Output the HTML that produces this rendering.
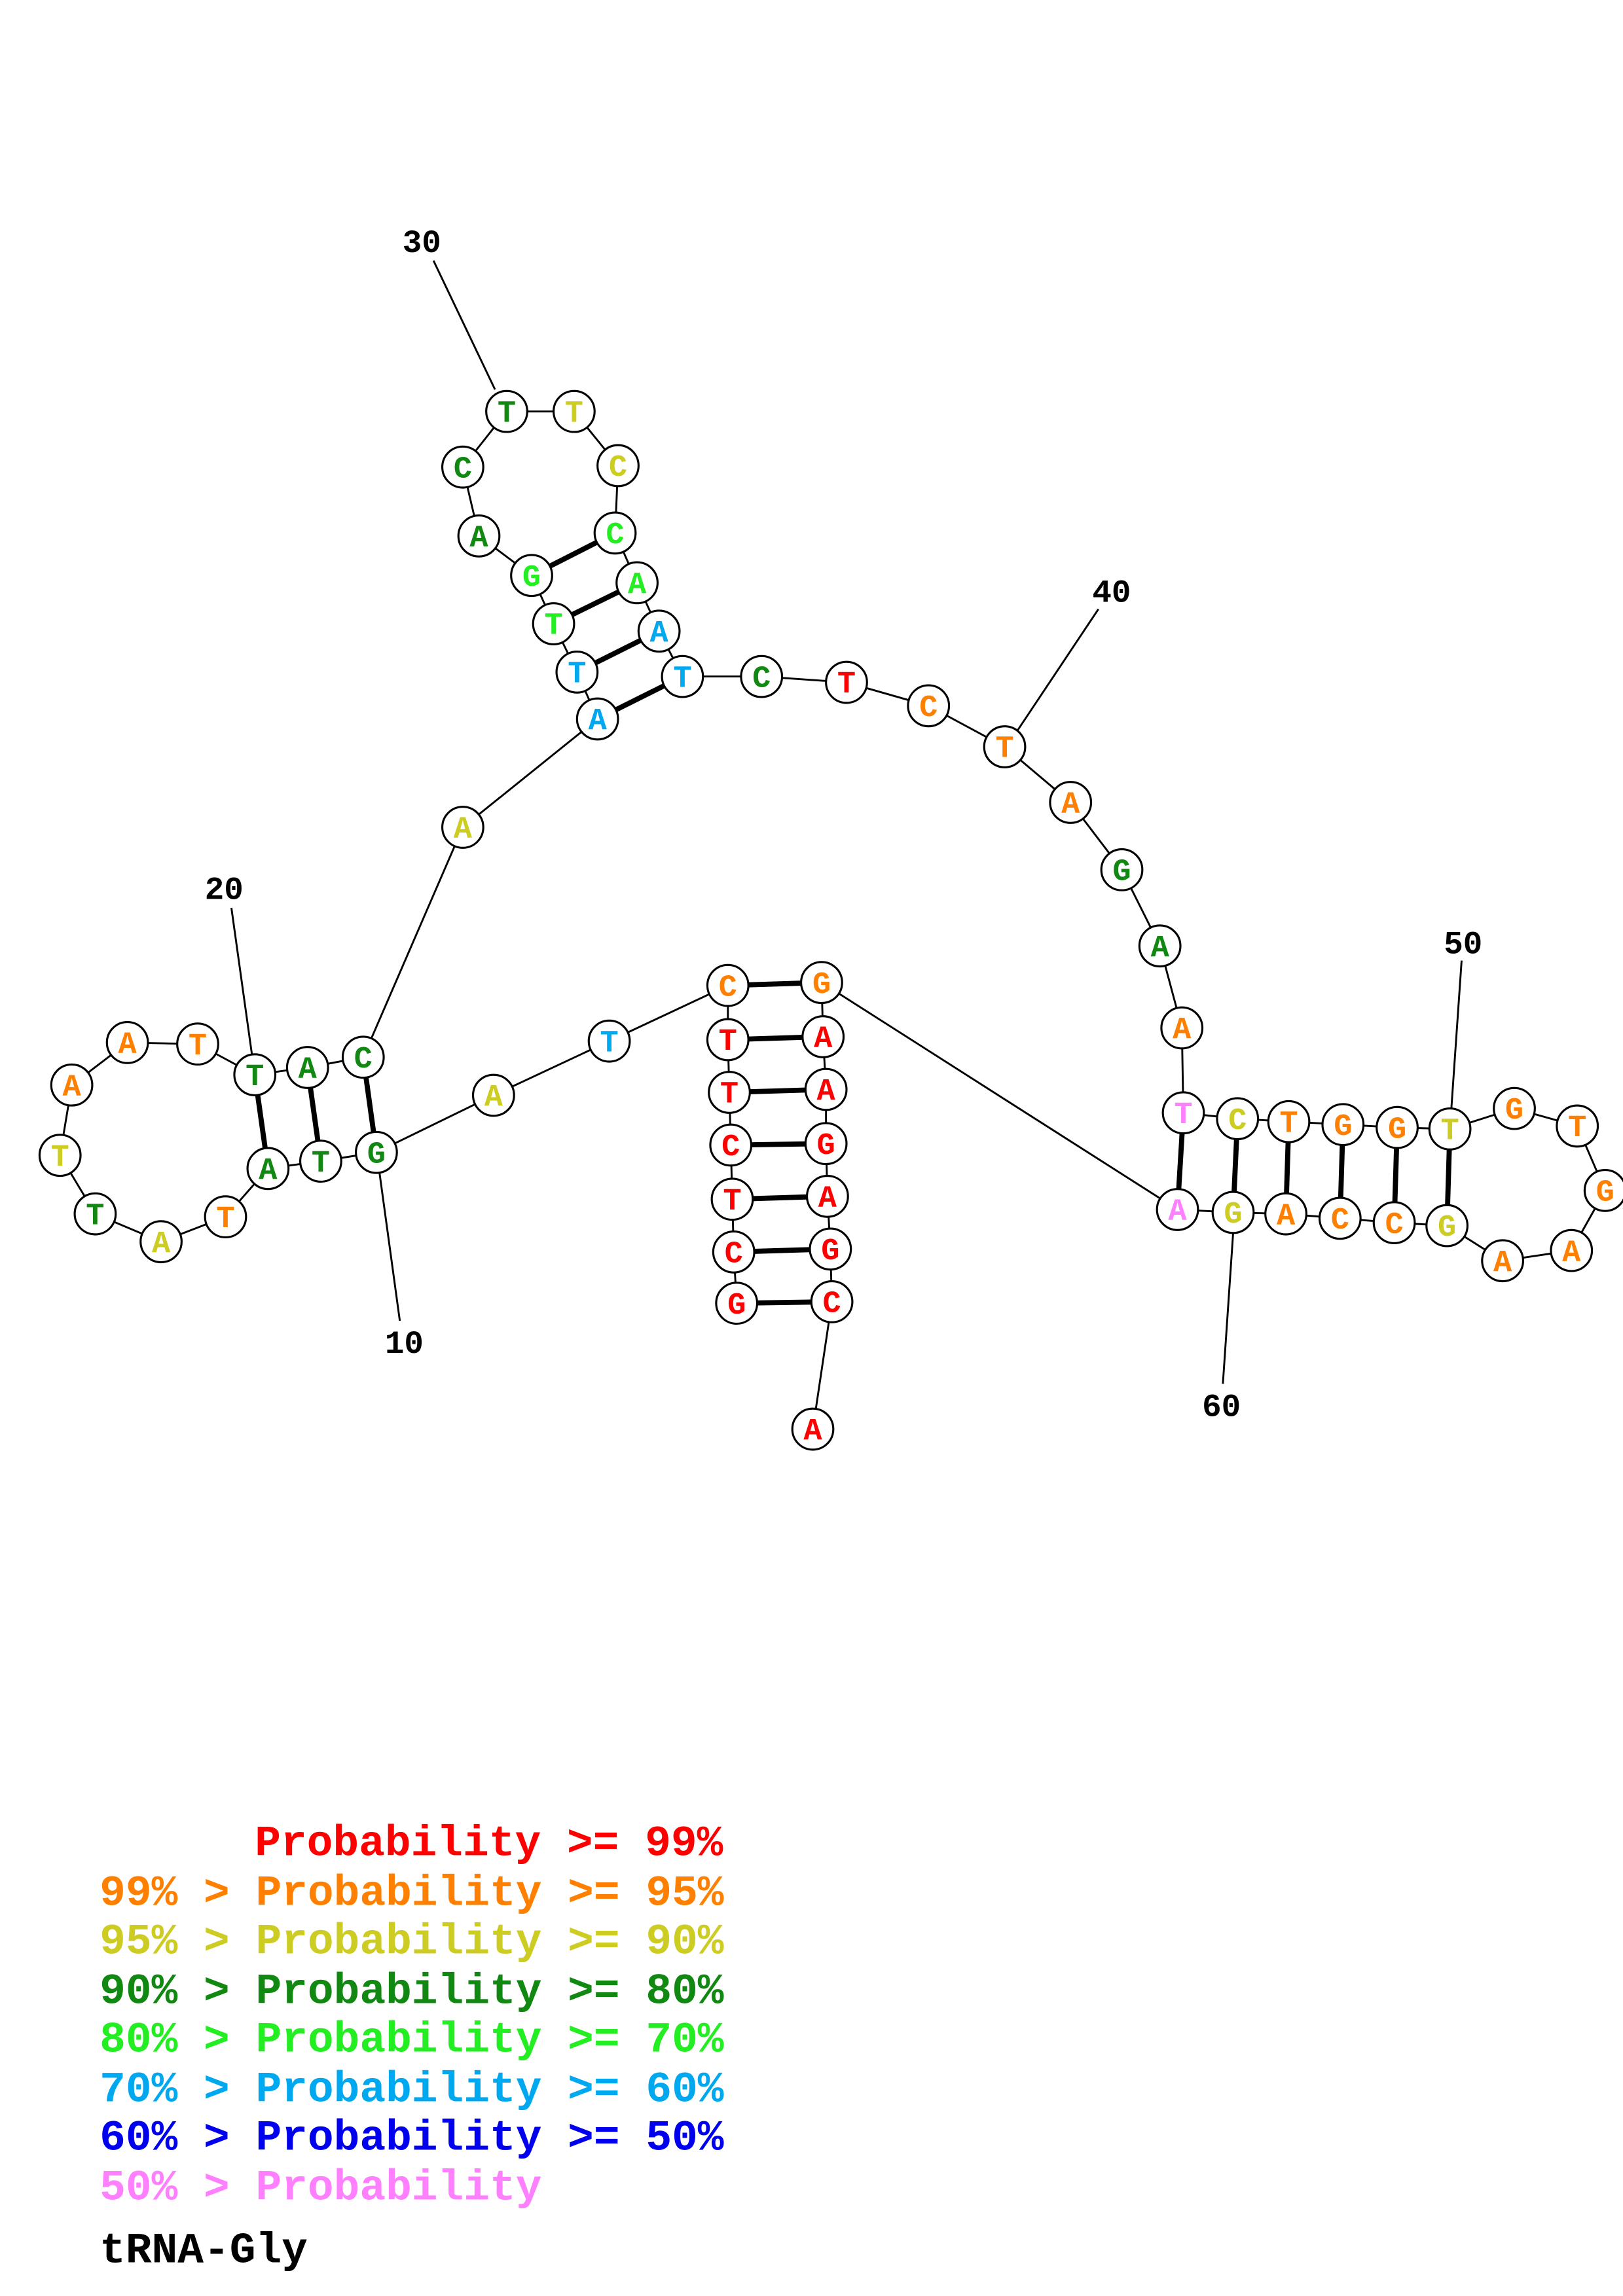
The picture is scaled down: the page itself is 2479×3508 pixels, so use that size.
<!DOCTYPE html>
<html><head><meta charset="utf-8"><style>html,body{margin:0;padding:0;background:#fff}svg{display:block}</style></head>
<body>
<svg xmlns="http://www.w3.org/2000/svg" width="2479" height="3508" viewBox="0 0 1108.2 1568" preserveAspectRatio="none">
<rect width="1108.2" height="1568" fill="#fff"/>
<g stroke="#000" stroke-width="1.3" fill="none">
<polyline points="503,890 501,855 500,819 499,782 498,746 497,710 497,673 416,711 337,748 257,787 219,793 183,798 154,831 110,848 65,829 41,789 49,741 87,712 135,713 174,734 210,729 248,722 316,565 408,491 394,459 378,426 363,393 327,366 316,319 346,281 392,281 422,318 420,364 435,398 450,431 466,462 520,462 578,466 634,482 686,510 731,548 766,594 792,646 807,702 808,760 845,764 880,766 917,768 954,770 990,771 1034,757 1077,769 1096,813 1073,854 1026,861 988,837 952,835 915,832 878,829 842,828 804,826 561,671 562,708 564,744 564,781 565,817 567,853 568,889 555,976"/>
<line x1="296" y1="178" x2="338" y2="266"/>
<line x1="750" y1="416" x2="694" y2="500"/>
<line x1="158" y1="620" x2="172" y2="720"/>
<line x1="273" y1="902" x2="259" y2="800"/>
<line x1="998" y1="656" x2="991" y2="757"/>
<line x1="835" y1="945" x2="842" y2="842"/>
</g>
<g stroke="#000" stroke-width="3.5">
<line x1="503" y1="890" x2="568" y2="889"/><line x1="501" y1="855" x2="567" y2="853"/><line x1="500" y1="819" x2="565" y2="817"/><line x1="499" y1="782" x2="564" y2="781"/><line x1="498" y1="746" x2="564" y2="744"/><line x1="497" y1="710" x2="562" y2="708"/><line x1="497" y1="673" x2="561" y2="671"/>
<line x1="257" y1="787" x2="248" y2="722"/><line x1="219" y1="793" x2="210" y2="729"/><line x1="183" y1="798" x2="174" y2="734"/>
<line x1="408" y1="491" x2="466" y2="462"/><line x1="394" y1="459" x2="450" y2="431"/><line x1="378" y1="426" x2="435" y2="398"/><line x1="363" y1="393" x2="420" y2="364"/>
<line x1="808" y1="760" x2="804" y2="826"/><line x1="845" y1="764" x2="842" y2="828"/><line x1="880" y1="766" x2="878" y2="829"/><line x1="917" y1="768" x2="915" y2="832"/><line x1="954" y1="770" x2="952" y2="835"/><line x1="990" y1="771" x2="988" y2="837"/>
</g>
<g font-family="Liberation Mono, monospace" font-weight="bold" font-size="21" text-anchor="middle" stroke-width="1.4">
<g stroke="#000" fill="#fff">
<circle cx="503" cy="890" r="14"/><circle cx="501" cy="855" r="14"/><circle cx="500" cy="819" r="14"/><circle cx="499" cy="782" r="14"/><circle cx="498" cy="746" r="14"/><circle cx="497" cy="710" r="14"/><circle cx="497" cy="673" r="14"/><circle cx="416" cy="711" r="14"/><circle cx="337" cy="748" r="14"/><circle cx="257" cy="787" r="14"/><circle cx="219" cy="793" r="14"/><circle cx="183" cy="798" r="14"/><circle cx="154" cy="831" r="14"/><circle cx="110" cy="848" r="14"/><circle cx="65" cy="829" r="14"/><circle cx="41" cy="789" r="14"/><circle cx="49" cy="741" r="14"/><circle cx="87" cy="712" r="14"/><circle cx="135" cy="713" r="14"/><circle cx="174" cy="734" r="14"/><circle cx="210" cy="729" r="14"/><circle cx="248" cy="722" r="14"/><circle cx="316" cy="565" r="14"/><circle cx="408" cy="491" r="14"/><circle cx="394" cy="459" r="14"/><circle cx="378" cy="426" r="14"/><circle cx="363" cy="393" r="14"/><circle cx="327" cy="366" r="14"/><circle cx="316" cy="319" r="14"/><circle cx="346" cy="281" r="14"/><circle cx="392" cy="281" r="14"/><circle cx="422" cy="318" r="14"/><circle cx="420" cy="364" r="14"/><circle cx="435" cy="398" r="14"/><circle cx="450" cy="431" r="14"/><circle cx="466" cy="462" r="14"/><circle cx="520" cy="462" r="14"/><circle cx="578" cy="466" r="14"/><circle cx="634" cy="482" r="14"/><circle cx="686" cy="510" r="14"/><circle cx="731" cy="548" r="14"/><circle cx="766" cy="594" r="14"/><circle cx="792" cy="646" r="14"/><circle cx="807" cy="702" r="14"/><circle cx="808" cy="760" r="14"/><circle cx="845" cy="764" r="14"/><circle cx="880" cy="766" r="14"/><circle cx="917" cy="768" r="14"/><circle cx="954" cy="770" r="14"/><circle cx="990" cy="771" r="14"/><circle cx="1034" cy="757" r="14"/><circle cx="1077" cy="769" r="14"/><circle cx="1096" cy="813" r="14"/><circle cx="1073" cy="854" r="14"/><circle cx="1026" cy="861" r="14"/><circle cx="988" cy="837" r="14"/><circle cx="952" cy="835" r="14"/><circle cx="915" cy="832" r="14"/><circle cx="878" cy="829" r="14"/><circle cx="842" cy="828" r="14"/><circle cx="804" cy="826" r="14"/><circle cx="561" cy="671" r="14"/><circle cx="562" cy="708" r="14"/><circle cx="564" cy="744" r="14"/><circle cx="564" cy="781" r="14"/><circle cx="565" cy="817" r="14"/><circle cx="567" cy="853" r="14"/><circle cx="568" cy="889" r="14"/><circle cx="555" cy="976" r="14"/>
</g>
<g fill="#ff0000"><text x="503" y="897">G</text><text x="501" y="862">C</text><text x="500" y="826">T</text><text x="499" y="789">C</text><text x="498" y="753">T</text><text x="497" y="717">T</text><text x="578" y="473">T</text><text x="562" y="715">A</text><text x="564" y="751">A</text><text x="564" y="788">G</text><text x="565" y="824">A</text><text x="567" y="860">G</text><text x="568" y="896">C</text><text x="555" y="983">A</text></g>
<g fill="#ff8000"><text x="497" y="680">C</text><text x="154" y="838">T</text><text x="49" y="748">A</text><text x="87" y="719">A</text><text x="135" y="720">T</text><text x="634" y="489">C</text><text x="686" y="517">T</text><text x="731" y="555">A</text><text x="807" y="709">A</text><text x="880" y="773">T</text><text x="917" y="775">G</text><text x="954" y="777">G</text><text x="1034" y="764">G</text><text x="1077" y="776">T</text><text x="1096" y="820">G</text><text x="1073" y="861">A</text><text x="1026" y="868">A</text><text x="952" y="842">C</text><text x="915" y="839">C</text><text x="878" y="836">A</text><text x="561" y="678">G</text></g>
<g fill="#cccc22"><text x="337" y="755">A</text><text x="110" y="855">A</text><text x="41" y="796">T</text><text x="316" y="572">A</text><text x="392" y="288">T</text><text x="422" y="325">C</text><text x="845" y="771">C</text><text x="990" y="778">T</text><text x="988" y="844">G</text><text x="842" y="835">G</text></g>
<g fill="#118811"><text x="257" y="794">G</text><text x="219" y="800">T</text><text x="183" y="805">A</text><text x="65" y="836">T</text><text x="174" y="741">T</text><text x="210" y="736">A</text><text x="248" y="729">C</text><text x="327" y="373">A</text><text x="316" y="326">C</text><text x="346" y="288">T</text><text x="520" y="469">C</text><text x="766" y="601">G</text><text x="792" y="653">A</text></g>
<g fill="#22ee22"><text x="378" y="433">T</text><text x="363" y="400">G</text><text x="420" y="371">C</text><text x="435" y="405">A</text></g>
<g fill="#00a8f0"><text x="416" y="718">T</text><text x="408" y="498">A</text><text x="394" y="466">T</text><text x="450" y="438">A</text><text x="466" y="469">T</text></g>
<g fill="#ff80ff"><text x="808" y="767">T</text><text x="804" y="833">A</text></g>
</g>
<g font-family="Liberation Mono, monospace" font-weight="bold" font-size="22" text-anchor="middle" fill="#000">
<text x="288" y="172">30</text><text x="759" y="411">40</text><text x="153" y="614">20</text><text x="276" y="924">10</text><text x="999" y="651">50</text><text x="834" y="967">60</text>
</g>
<g font-family="Liberation Mono, monospace" font-weight="bold" font-size="29.6">
<text x="174" y="1267" fill="#ff0000">Probability &gt;= 99%</text>
<text x="68" y="1301" fill="#ff8000">99% &gt; Probability &gt;= 95%</text>
<text x="68" y="1334" fill="#cccc22">95% &gt; Probability &gt;= 90%</text>
<text x="68" y="1368" fill="#118811">90% &gt; Probability &gt;= 80%</text>
<text x="68" y="1401" fill="#22ee22">80% &gt; Probability &gt;= 70%</text>
<text x="68" y="1435" fill="#00a8f0">70% &gt; Probability &gt;= 60%</text>
<text x="68" y="1468" fill="#0000ee">60% &gt; Probability &gt;= 50%</text>
<text x="68" y="1502" fill="#ff80ff">50% &gt; Probability</text>
<text x="68" y="1545" fill="#000">tRNA-Gly</text>
</g>
</svg>
</body></html>
